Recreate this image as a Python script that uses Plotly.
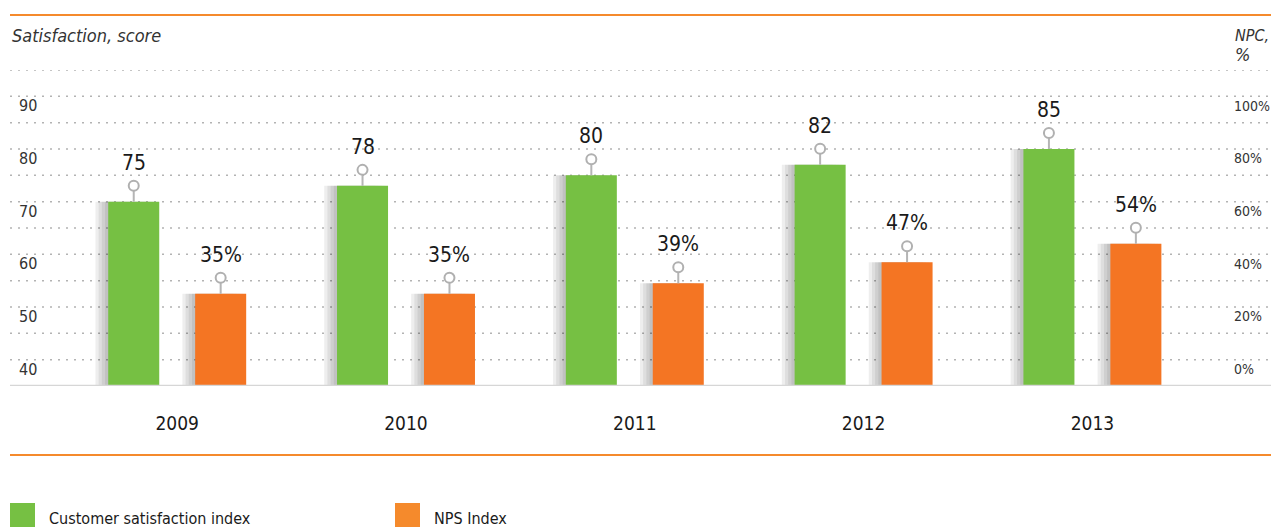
import plotly.graph_objects as go

# ---- data ----
years = ["2009", "2010", "2011", "2012", "2013"]
csi_values = [75, 78, 80, 82, 85]          # Customer satisfaction index (score)
nps_values = [35, 35, 39, 47, 54]          # NPS Index (%)
left_ticks = [40, 50, 60, 70, 80, 90]
right_ticks = [0, 20, 40, 60, 80, 100]
right_tick_labels = [f"{t}%" for t in right_ticks]

# ---- style ----
GREEN = "#76c043"
ORANGE = "#f47523"
LINE_ORANGE = "#f58a2c"
FONT = "DejaVu Sans Condensed, Liberation Sans Narrow, sans-serif"
W, H = 1271, 527
L, R, T, B = 10, 43, 70, 141          # plot area margins (px)
PW, PH = W - L - R, H - T - B

SHIFT = 0.19   # half distance between the two bars of a group (x units)
BW = 0.223     # bar width (x units)
idx = list(range(len(years)))
x_csi = [i - SHIFT for i in idx]
x_nps = [i + SHIFT for i in idx]

def px_x(p):
    return (p - L) / PW

def px_y(p):
    return (H - B - p) / PH

fig = go.Figure()

# soft shadows on the left side of each bar
for k in (4, 3, 2, 1):
    d = k * 3.2 / 228.8
    fig.add_trace(go.Bar(x=[v - d for v in x_csi], y=csi_values, width=BW,
                         marker=dict(color="rgba(0,0,0,0.065)", line=dict(width=0)),
                         showlegend=False, hoverinfo="skip", yaxis="y"))
    fig.add_trace(go.Bar(x=[v - d for v in x_nps], y=nps_values, width=BW,
                         marker=dict(color="rgba(0,0,0,0.065)", line=dict(width=0)),
                         showlegend=False, hoverinfo="skip", yaxis="y2"))

fig.add_trace(go.Bar(x=x_csi, y=csi_values, width=BW, name="Customer satisfaction index",
                     marker=dict(color=GREEN, line=dict(width=0)), showlegend=False, yaxis="y"))
fig.add_trace(go.Bar(x=x_nps, y=nps_values, width=BW, name="NPS Index",
                     marker=dict(color=ORANGE, line=dict(width=0)), showlegend=False, yaxis="y2"))

shapes = []
annotations = []

# dotted grid lines (every 5 points on the score scale), extending to the page edge
for g in range(45, 101, 5):
    shapes.append(dict(type="line", xref="paper", yref="y", x0=0, x1=px_x(W), y0=g, y1=g,
                       line=dict(color="#b3b3b3", width=1.5, dash="2px,6px"), layer="below"))
# baseline
shapes.append(dict(type="line", xref="paper", yref="y", x0=0, x1=px_x(W), y0=40, y1=40,
                   line=dict(color="#d6d6d6", width=2.5), layer="above"))
# orange rules top and bottom
for yy in (15, 455):
    shapes.append(dict(type="line", xref="paper", yref="paper", x0=0, x1=px_x(W),
                       y0=px_y(yy), y1=px_y(yy), line=dict(color=LINE_ORANGE, width=2)))

# value markers: stem + circle + label
def add_marker(xc, val, yref, text):
    shapes.append(dict(type="line", xref="x", yref=yref, xsizemode="scaled", ysizemode="pixel",
                       yanchor=val, x0=xc, x1=xc, y0=0, y1=11,
                       line=dict(color="#b5b5b5", width=2)))
    shapes.append(dict(type="circle", xref="x", yref=yref, xsizemode="pixel", ysizemode="pixel",
                       xanchor=xc, yanchor=val, x0=-5, x1=5, y0=11, y1=21,
                       line=dict(color="#b0b0b0", width=2), fillcolor="white"))
    annotations.append(dict(x=xc, y=val, xref="x", yref=yref, text=text, showarrow=False,
                            yshift=39, font=dict(family=FONT, size=21, color="#1a1a1a")))

for xc, v in zip(x_csi, csi_values):
    add_marker(xc, v, "y", f"{v}")
for xc, v in zip(x_nps, nps_values):
    add_marker(xc, v, "y2", f"{v}%")

# axis captions
cap_font = dict(family=FONT, size=18, color="#333333")
annotations.append(dict(x=0, y=px_y(35), xref="paper", yref="paper", xanchor="left", yanchor="middle",
                        text="<i>Satisfaction, score</i>", showarrow=False, font=cap_font))
annotations.append(dict(x=px_x(1233), y=px_y(35), xref="paper", yref="paper", xanchor="left",
                        yanchor="middle", text="<i>NPC,</i>", showarrow=False,
                        font=dict(family=FONT, size=16, color="#333333")))
annotations.append(dict(x=px_x(1233), y=px_y(55), xref="paper", yref="paper", xanchor="left",
                        yanchor="middle", text="<i>%</i>", showarrow=False, font=cap_font))

# legend (drawn manually for large swatches)
legend_items = [("Customer satisfaction index", GREEN, 10), ("NPS Index", LINE_ORANGE, 395)]
for label, col, x0 in legend_items:
    shapes.append(dict(type="rect", xref="paper", yref="paper", x0=px_x(x0), x1=px_x(x0 + 25),
                       y0=px_y(503), y1=px_y(529), fillcolor=col, line=dict(width=0)))
    annotations.append(dict(x=px_x(x0 + 37), y=px_y(518), xref="paper", yref="paper",
                            xanchor="left", yanchor="middle", text=label, showarrow=False,
                            font=dict(family=FONT, size=16, color="#1a1a1a")))

x_left = (L - 177.2) / 228.8
x_right = (W - R - 177.2) / 228.8

fig.update_layout(
    width=W, height=H,
    margin=dict(l=L, r=R, t=T, b=B, autoexpand=False),
    paper_bgcolor="white", plot_bgcolor="white",
    barmode="overlay",
    shapes=shapes, annotations=annotations,
    showlegend=False,
    xaxis=dict(range=[x_left, x_right], tickmode="array", tickvals=idx, ticktext=years,
               showgrid=False, zeroline=False, showline=False, ticks="", automargin=False,
               ticklabelstandoff=24, tickfont=dict(family=FONT, size=19, color="#1a1a1a"),
               fixedrange=True),
    yaxis=dict(range=[40, 100], tickmode="array", tickvals=left_ticks, automargin=False,
               showgrid=False, zeroline=False, showline=False, ticks="",
               ticklabelposition="inside", ticklabelshift=-17, ticklabelstandoff=6,
               tickfont=dict(family=FONT, size=16, color="#333333")),
    yaxis2=dict(range=[0, 120], overlaying="y", side="right", tickmode="array",
                tickvals=right_ticks, ticktext=right_tick_labels, automargin=False,
                showgrid=False, zeroline=False, showline=False, ticks="",
                ticklabelshift=-17, ticklabelstandoff=5,
                tickfont=dict(family=FONT, size=14, color="#333333")),
)

fig.write_html("out.html", config={"displayModeBar": False},
               post_script="document.body.style.margin='0';document.body.style.overflow='hidden';")
